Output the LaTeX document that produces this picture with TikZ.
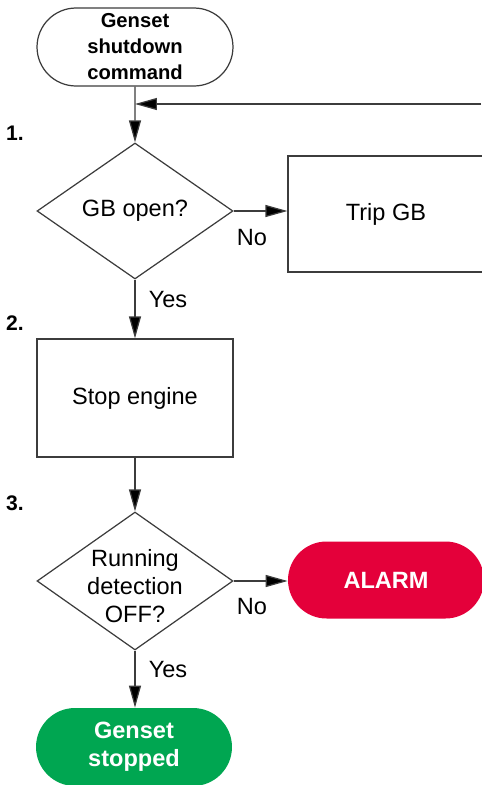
\documentclass[tikz,border=0pt]{standalone}
\usepackage{fontspec}
\setmainfont{Liberation Sans}
\usepackage{tikz}
\usetikzlibrary{arrows.meta, positioning, shapes.geometric, shapes.misc}
\definecolor{alarmred}{RGB}{228, 0, 58}
\definecolor{okgreen}{RGB}{0, 166, 81}
\definecolor{linegray}{RGB}{60, 60, 60}

\begin{document}
\begin{tikzpicture}[
  x=0.02cm, y=-0.02cm,
  term/.style={rounded rectangle, draw=linegray, line width=0.7pt, minimum width=3.92cm, minimum height=1.56cm, inner sep=0pt, align=center, font=\fontsize{11.5}{14.8}\selectfont\bfseries},
  procbox/.style={rectangle, draw=linegray, line width=0.7pt, minimum width=3.92cm, inner sep=0pt, align=center, font=\fontsize{13.4}{16}\selectfont},
  decide/.style={diamond, draw=linegray, line width=0.7pt, minimum width=3.92cm, inner sep=0pt, font=\fontsize{13.4}{16}\selectfont},
  endterm/.style={rounded rectangle, minimum width=3.92cm, inner sep=0pt, align=center, text=white, font=\fontsize{13.4}{16}\selectfont\bfseries},
  arrow/.style={-{Triangle[length=0.44cm, width=0.24cm, fill=black]}, draw=linegray, line width=0.7pt},
  lbl/.style={font=\fontsize{13.4}{16}\selectfont},
  stepnum/.style={font=\fontsize{12}{14}\selectfont\bfseries}
]
\useasboundingbox (0,0) rectangle (481,785);

% Start
\node[term] (start) at (135, 47) {Genset\\shutdown\\command};

% Step 1: generator breaker
\node[stepnum] (n1) at (15, 133) {1.};
\node[decide, minimum height=2.72cm] (d1) at (135, 211) {GB open?};
\node[procbox, minimum height=2.32cm] (trip) at (386, 214) {Trip GB};

% Step 2
\node[stepnum] (n2) at (15, 323) {2.};
\node[procbox, minimum height=2.36cm] (stop) at (135, 398) {Stop engine};

% Step 3: running detection
\node[stepnum] (n3) at (15, 503) {3.};
\node[decide, minimum height=2.76cm] (d2) at (135, 581)
  {\smash{\raisebox{-8pt}{\begin{tabular}{@{}c@{}}Running\\detection\\OFF?\end{tabular}}}};
\node[endterm, fill=alarmred, minimum height=1.54cm] (alarm) at (386, 580) {ALARM};
\node[endterm, fill=okgreen, minimum height=1.56cm] (done) at (134, 747) {Genset\\stopped};

% Connectors
\coordinate (fbin) at (481, 104);
\coordinate (join) at (135, 104);
\draw[arrow] (start) -- (d1);
\draw[arrow] (fbin) -- (join);
\draw[arrow] (d1.east) -- (trip.west |- d1.east);
\draw[arrow] (d1) -- (stop);
\draw[arrow] (stop) -- (d2);
\draw[arrow] (d2.east) -- (alarm.west |- d2.east);
\draw[arrow] (d2.south) -- (d2.south |- done.north);

% Labels
\node[lbl] (no1) at (252, 238) {No};
\node[lbl] (yes1) at (168, 300) {Yes};
\node[lbl] (no2) at (252, 607) {No};
\node[lbl] (yes2) at (168, 670) {Yes};

\end{tikzpicture}
\end{document}
